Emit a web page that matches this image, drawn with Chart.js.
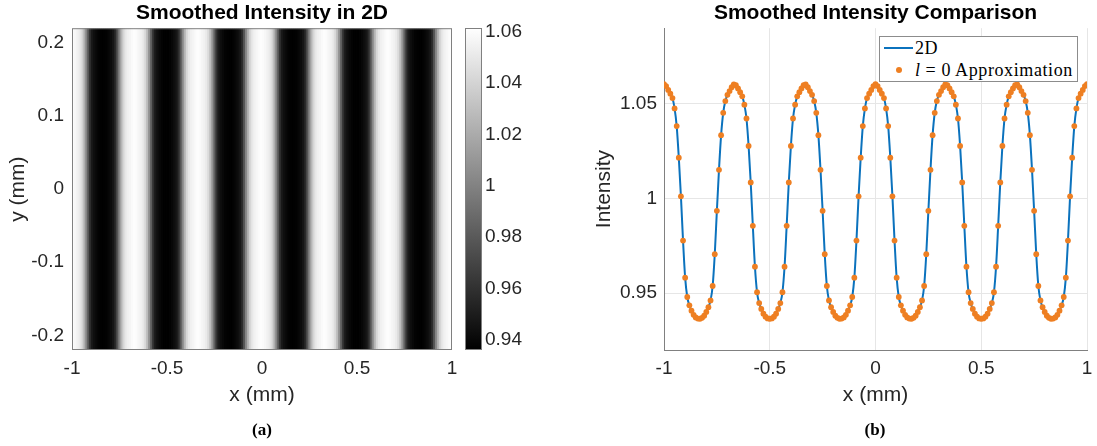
<!DOCTYPE html>
<html>
<head>
<meta charset="utf-8">
<script src="https://cdn.jsdelivr.net/npm/chart.js@4.4.1/dist/chart.umd.min.js"></script>
<style>
  body { margin: 0; width: 1097px; height: 446px; background: #fff; position: relative; overflow: hidden; }
  canvas { position: absolute; top: 0; }
  #heat { left: 0; }
  #cbar { left: 455px; }
  #comp { left: 580px; }
  .cap { position: absolute; top: 420px; width: 60px; margin-left: -30px; text-align: center;
         font: bold 17px 'Liberation Serif', 'DejaVu Serif', serif; line-height: 20px; color: #000; }
  #legend { position: absolute; left: 879px; top: 36px; width: 199px; height: 46px; box-sizing: border-box;
            border: 1px solid #8c8c8c; background: #fff; font: 18px 'Liberation Serif', 'DejaVu Serif', serif;
            color: #000; letter-spacing: 0.6px; }
  #legend .ln { position: absolute; left: 4px; top: 10px; width: 29px; height: 2px; background: #0b72bd; }
  #legend .dt { position: absolute; left: 16px; top: 30px; width: 6px; height: 6px; border-radius: 50%; background: #ee7f22; }
  #legend .tx { position: absolute; left: 35px; line-height: 20px; white-space: nowrap; }
  #legend .eq { margin: 0 5px; }
</style>
</head>
<body>
<canvas id="heat" width="460" height="446"></canvas>
<canvas id="cbar" width="80" height="446"></canvas>
<canvas id="comp" width="517" height="446"></canvas>
<div id="legend">
  <span class="ln"></span><span class="tx" style="top:1px">2D</span>
  <span class="dt"></span><span class="tx" style="top:23px"><i>l</i><span class="eq">=</span>0 Approximation</span>
</div>
<div class="cap" style="left:262px">(a)</div>
<div class="cap" style="left:875px">(b)</div>
<script>
// sample positions along x (mm)
const posX = [
  -1, -0.99, -0.98, -0.97, -0.96, -0.95, -0.94, -0.93, -0.92, -0.91,
  -0.9, -0.89, -0.88, -0.87, -0.86, -0.85, -0.84, -0.83, -0.82, -0.81,
  -0.8, -0.79, -0.78, -0.77, -0.76, -0.75, -0.74, -0.73, -0.72, -0.71,
  -0.7, -0.69, -0.68, -0.67, -0.66, -0.65, -0.64, -0.63, -0.62, -0.61,
  -0.6, -0.59, -0.58, -0.57, -0.56, -0.55, -0.54, -0.53, -0.52, -0.51,
  -0.5, -0.49, -0.48, -0.47, -0.46, -0.45, -0.44, -0.43, -0.42, -0.41,
  -0.4, -0.39, -0.38, -0.37, -0.36, -0.35, -0.34, -0.33, -0.32, -0.31,
  -0.3, -0.29, -0.28, -0.27, -0.26, -0.25, -0.24, -0.23, -0.22, -0.21,
  -0.2, -0.19, -0.18, -0.17, -0.16, -0.15, -0.14, -0.13, -0.12, -0.11,
  -0.1, -0.09, -0.08, -0.07, -0.06, -0.05, -0.04, -0.03, -0.02, -0.01,
  0,
  0.01, 0.02, 0.03, 0.04, 0.05, 0.06, 0.07, 0.08, 0.09, 0.1,
  0.11, 0.12, 0.13, 0.14, 0.15, 0.16, 0.17, 0.18, 0.19, 0.2,
  0.21, 0.22, 0.23, 0.24, 0.25, 0.26, 0.27, 0.28, 0.29, 0.3,
  0.31, 0.32, 0.33, 0.34, 0.35, 0.36, 0.37, 0.38, 0.39, 0.4,
  0.41, 0.42, 0.43, 0.44, 0.45, 0.46, 0.47, 0.48, 0.49, 0.5,
  0.51, 0.52, 0.53, 0.54, 0.55, 0.56, 0.57, 0.58, 0.59, 0.6,
  0.61, 0.62, 0.63, 0.64, 0.65, 0.66, 0.67, 0.68, 0.69, 0.7,
  0.71, 0.72, 0.73, 0.74, 0.75, 0.76, 0.77, 0.78, 0.79, 0.8,
  0.81, 0.82, 0.83, 0.84, 0.85, 0.86, 0.87, 0.88, 0.89, 0.9,
  0.91, 0.92, 0.93, 0.94, 0.95, 0.96, 0.97, 0.98, 0.99, 1
];

// smoothed intensity, 2D result
const intensity2D = [
  1.0604, 1.0594, 1.0574, 1.0554, 1.0531, 1.0476, 1.0383, 1.0216, 1.0012, 0.9778,
  0.9582, 0.9480, 0.9436, 0.9408, 0.9386, 0.9372, 0.9366, 0.9365, 0.9370, 0.9381,
  0.9401, 0.9426, 0.9462, 0.9538, 0.9706, 0.9935, 1.0152, 1.0335, 1.0453, 1.0515,
  1.0548, 1.0568, 1.0588, 1.0603, 1.0599, 1.0582, 1.0562, 1.0540, 1.0496, 1.0423,
  1.0278, 1.0085, 0.9856, 0.9640, 0.9505, 0.9448, 0.9417, 0.9392, 0.9376, 0.9367,
  0.9365, 0.9367, 0.9376, 0.9392, 0.9417, 0.9448, 0.9505, 0.9640, 0.9856, 1.0085,
  1.0278, 1.0423, 1.0496, 1.0540, 1.0562, 1.0582, 1.0599, 1.0603, 1.0588, 1.0568,
  1.0548, 1.0515, 1.0453, 1.0335, 1.0152, 0.9935, 0.9706, 0.9538, 0.9462, 0.9426,
  0.9401, 0.9381, 0.9370, 0.9365, 0.9366, 0.9372, 0.9386, 0.9408, 0.9436, 0.9480,
  0.9582, 0.9778, 1.0012, 1.0216, 1.0383, 1.0476, 1.0531, 1.0554, 1.0574, 1.0594,
  1.0604,
  1.0594, 1.0574, 1.0554, 1.0531, 1.0476, 1.0383, 1.0216, 1.0012, 0.9778, 0.9582,
  0.9480, 0.9436, 0.9408, 0.9386, 0.9372, 0.9366, 0.9365, 0.9370, 0.9381, 0.9401,
  0.9426, 0.9462, 0.9538, 0.9706, 0.9935, 1.0152, 1.0335, 1.0453, 1.0515, 1.0548,
  1.0568, 1.0588, 1.0603, 1.0599, 1.0582, 1.0562, 1.0540, 1.0496, 1.0423, 1.0278,
  1.0085, 0.9856, 0.9640, 0.9505, 0.9448, 0.9417, 0.9392, 0.9376, 0.9367, 0.9365,
  0.9367, 0.9376, 0.9392, 0.9417, 0.9448, 0.9505, 0.9640, 0.9856, 1.0085, 1.0278,
  1.0423, 1.0496, 1.0540, 1.0562, 1.0582, 1.0599, 1.0603, 1.0588, 1.0568, 1.0548,
  1.0515, 1.0453, 1.0335, 1.0152, 0.9935, 0.9706, 0.9538, 0.9462, 0.9426, 0.9401,
  0.9381, 0.9370, 0.9365, 0.9366, 0.9372, 0.9386, 0.9408, 0.9436, 0.9480, 0.9582,
  0.9778, 1.0012, 1.0216, 1.0383, 1.0476, 1.0531, 1.0554, 1.0574, 1.0594, 1.0604
];

// l = 0 approximation (sits on top of the 2D curve)
const approxL0 = [
  1.0604, 1.0594, 1.0574, 1.0554, 1.0531, 1.0476, 1.0383, 1.0216, 1.0012, 0.9778,
  0.9582, 0.9480, 0.9436, 0.9408, 0.9386, 0.9372, 0.9366, 0.9365, 0.9370, 0.9381,
  0.9401, 0.9426, 0.9462, 0.9538, 0.9706, 0.9935, 1.0152, 1.0335, 1.0453, 1.0515,
  1.0548, 1.0568, 1.0588, 1.0603, 1.0599, 1.0582, 1.0562, 1.0540, 1.0496, 1.0423,
  1.0278, 1.0085, 0.9856, 0.9640, 0.9505, 0.9448, 0.9417, 0.9392, 0.9376, 0.9367,
  0.9365, 0.9367, 0.9376, 0.9392, 0.9417, 0.9448, 0.9505, 0.9640, 0.9856, 1.0085,
  1.0278, 1.0423, 1.0496, 1.0540, 1.0562, 1.0582, 1.0599, 1.0603, 1.0588, 1.0568,
  1.0548, 1.0515, 1.0453, 1.0335, 1.0152, 0.9935, 0.9706, 0.9538, 0.9462, 0.9426,
  0.9401, 0.9381, 0.9370, 0.9365, 0.9366, 0.9372, 0.9386, 0.9408, 0.9436, 0.9480,
  0.9582, 0.9778, 1.0012, 1.0216, 1.0383, 1.0476, 1.0531, 1.0554, 1.0574, 1.0594,
  1.0604,
  1.0594, 1.0574, 1.0554, 1.0531, 1.0476, 1.0383, 1.0216, 1.0012, 0.9778, 0.9582,
  0.9480, 0.9436, 0.9408, 0.9386, 0.9372, 0.9366, 0.9365, 0.9370, 0.9381, 0.9401,
  0.9426, 0.9462, 0.9538, 0.9706, 0.9935, 1.0152, 1.0335, 1.0453, 1.0515, 1.0548,
  1.0568, 1.0588, 1.0603, 1.0599, 1.0582, 1.0562, 1.0540, 1.0496, 1.0423, 1.0278,
  1.0085, 0.9856, 0.9640, 0.9505, 0.9448, 0.9417, 0.9392, 0.9376, 0.9367, 0.9365,
  0.9367, 0.9376, 0.9392, 0.9417, 0.9448, 0.9505, 0.9640, 0.9856, 1.0085, 1.0278,
  1.0423, 1.0496, 1.0540, 1.0562, 1.0582, 1.0599, 1.0603, 1.0588, 1.0568, 1.0548,
  1.0515, 1.0453, 1.0335, 1.0152, 0.9935, 0.9706, 0.9538, 0.9462, 0.9426, 0.9401,
  0.9381, 0.9370, 0.9365, 0.9366, 0.9372, 0.9386, 0.9408, 0.9436, 0.9480, 0.9582,
  0.9778, 1.0012, 1.0216, 1.0383, 1.0476, 1.0531, 1.0554, 1.0574, 1.0594, 1.0604
];

const yExtent = [-0.22, 0.22];          // image extent in y (mm)
const colorRange = [0.936, 1.0615];     // colorbar limits
const xTicks = [-1, -0.5, 0, 0.5, 1];
const yTicksHeat = [-0.2, -0.1, 0, 0.1, 0.2];
const cbTicks = [0.94, 0.96, 0.98, 1, 1.02, 1.04, 1.06];
const intTicks = [0.95, 1, 1.05];
const intRange = [0.92, 1.09];

const sans = "'Liberation Sans', Arial, Helvetica, sans-serif";
const axisGray = '#808080';
const tickColor = '#262626';
const blue = '#0b72bd';
const orange = '#ee7f22';

const fmt = v => String(Number(v.toFixed(4)));
const setTicks = list => axis => { axis.ticks = list.map(v => ({ value: v })); };
// fixed axis height, no extra room reserved for the end labels
const fixX = s => { s.height = 96; s.paddingLeft = 0; s.paddingRight = 0; };

const grayOf = v => {
  let t = (v - colorRange[0]) / (colorRange[1] - colorRange[0]);
  t = Math.max(0, Math.min(1, t));
  const g = Math.round(t * 255);
  return 'rgb(' + g + ',' + g + ',' + g + ')';
};

// full box around the plot area
const frame = {
  id: 'frame',
  afterDraw(chart) {
    const { ctx, chartArea: a } = chart;
    ctx.save();
    ctx.strokeStyle = axisGray;
    ctx.lineWidth = 1;
    ctx.strokeRect(a.left + 0.5, a.top + 0.5, a.right - a.left - 1, a.bottom - a.top - 1);
    ctx.restore();
  }
};

const titleOpts = text => ({
  display: true, text: text, fullSize: false, color: '#000',
  font: { family: sans, size: 21, weight: 'bold' },
  padding: { top: 1, bottom: 2 }
});

Chart.defaults.font.family = sans;

// (a) heat map of the smoothed intensity
const heatChart = new Chart(document.querySelector('#heat'), {
  type: 'bar',
  data: {
    datasets: [{
      data: posX.map(x => ({ x: x, y: yExtent })),
      backgroundColor: intensity2D.map(grayOf),
      borderWidth: 0,
      barThickness: 3
    }]
  },
  options: {
    responsive: false,
    animation: false,
    layout: { padding: { left: 0, right: 8, top: 0, bottom: 0 } },
    plugins: {
      legend: { display: false },
      tooltip: { enabled: false },
      title: titleOpts('Smoothed Intensity in 2D')
    },
    scales: {
      x: {
        type: 'linear', min: -1, max: 1, offset: false,
        grid: { display: false, drawTicks: false, offset: false },
        border: { display: false },
        afterBuildTicks: setTicks(xTicks),
        afterFit: fixX,
        ticks: { color: tickColor, font: { size: 19 }, padding: 7, maxRotation: 0, callback: fmt },
        title: { display: true, text: 'x (mm)', color: tickColor, font: { size: 21 }, padding: { top: 0, bottom: 38 } }
      },
      y: {
        min: yExtent[0], max: yExtent[1],
        grid: { display: false, drawTicks: false },
        border: { display: false },
        afterBuildTicks: setTicks(yTicksHeat),
        afterFit: s => { s.width = 72; },
        ticks: { color: tickColor, font: { size: 19 }, padding: 8, callback: fmt },
        title: { display: true, text: 'y (mm)', color: tickColor, font: { size: 21 }, padding: { top: 6, bottom: 0 } }
      }
    }
  },
  plugins: [frame]
});

// colorbar
const cbarChart = new Chart(document.querySelector('#cbar'), {
  type: 'bar',
  data: {
    labels: [''],
    datasets: [{
      data: [colorRange],
      backgroundColor: c => {
        const a = c.chart.chartArea;
        if (!a) return '#888';
        const gr = c.chart.ctx.createLinearGradient(0, a.bottom, 0, a.top);
        gr.addColorStop(0, '#000');
        gr.addColorStop(1, '#fff');
        return gr;
      },
      borderWidth: 0,
      barPercentage: 1,
      categoryPercentage: 1
    }]
  },
  options: {
    responsive: false,
    animation: false,
    layout: { padding: { left: 10, right: 0, top: 28, bottom: 96 } },
    plugins: { legend: { display: false }, tooltip: { enabled: false } },
    scales: {
      x: { display: false },
      y: {
        position: 'right', min: colorRange[0], max: colorRange[1],
        grid: { display: false, drawTicks: false },
        border: { display: false },
        afterBuildTicks: setTicks(cbTicks),
        afterFit: s => { s.width = 53; },
        ticks: { color: tickColor, font: { size: 19 }, padding: 3, callback: fmt }
      }
    }
  },
  plugins: [frame]
});

// (b) comparison of the 2D result and the l = 0 approximation
const compChart = new Chart(document.querySelector('#comp'), {
  type: 'line',
  data: {
    datasets: [
      {
        label: '2D',
        data: posX.map((x, i) => ({ x: x, y: intensity2D[i] })),
        borderColor: blue,
        borderWidth: 2,
        pointRadius: 0,
        cubicInterpolationMode: 'monotone',
        order: 1
      },
      {
        label: 'l = 0 Approximation',
        data: posX.map((x, i) => ({ x: x, y: approxL0[i] })),
        showLine: false,
        pointRadius: 2.9,
        pointBorderWidth: 0,
        pointBackgroundColor: orange,
        order: 0
      }
    ]
  },
  options: {
    responsive: false,
    animation: false,
    layout: { padding: { left: 0, right: 10, top: 0, bottom: 0 } },
    plugins: {
      legend: { display: false },
      tooltip: { enabled: false },
      title: titleOpts('Smoothed Intensity Comparison')
    },
    scales: {
      x: {
        type: 'linear', min: -1, max: 1,
        grid: { color: '#e6e6e6', drawTicks: false },
        border: { color: axisGray },
        afterBuildTicks: setTicks(xTicks),
        afterFit: fixX,
        ticks: { color: tickColor, font: { size: 19 }, padding: 7, maxRotation: 0, callback: fmt },
        title: { display: true, text: 'x (mm)', color: tickColor, font: { size: 21 }, padding: { top: 0, bottom: 38 } }
      },
      y: {
        min: intRange[0], max: intRange[1],
        grid: { color: '#e6e6e6', drawTicks: false },
        border: { color: axisGray },
        afterBuildTicks: setTicks(intTicks),
        afterFit: s => { s.width = 84; },
        ticks: { color: tickColor, font: { size: 19 }, padding: 7, callback: fmt },
        title: { display: true, text: 'Intensity', color: tickColor, font: { size: 21 }, padding: { top: 12, bottom: 0 } }
      }
    }
  }
});
</script>
</body>
</html>
